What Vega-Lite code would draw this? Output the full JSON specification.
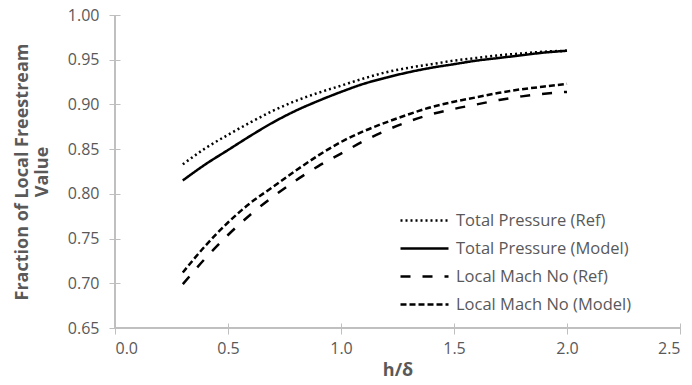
{
  "$schema": "https://vega.github.io/schema/vega-lite/v6.json",
  "width": 565,
  "height": 313,
  "autosize": {"type": "none"},
  "padding": {"left": 115, "top": 15, "right": 12, "bottom": 57},
  "config": {
    "view": {"stroke": null},
    "font": "Open Sans",
    "axis": {
      "grid": false,
      "domain": false,
      "tickColor": "#bfbfbf",
      "labelColor": "#595959",
      "labelFontSize": 16,
      "labelFont": "Open Sans",
      "titleColor": "#595959",
      "titleFont": "Open Sans",
      "titleFontSize": 18,
      "titleFontWeight": "bold",
      "tickSize": 11,
      "offset": -5
    }
  },
  "data": {
    "values": [
      {"h": 0.3, "v": 0.833, "s": "Total Pressure (Ref)"},
      {"h": 0.4, "v": 0.851, "s": "Total Pressure (Ref)"},
      {"h": 0.5, "v": 0.866, "s": "Total Pressure (Ref)"},
      {"h": 0.6, "v": 0.880, "s": "Total Pressure (Ref)"},
      {"h": 0.7, "v": 0.893, "s": "Total Pressure (Ref)"},
      {"h": 0.8, "v": 0.904, "s": "Total Pressure (Ref)"},
      {"h": 0.9, "v": 0.913, "s": "Total Pressure (Ref)"},
      {"h": 1.0, "v": 0.921, "s": "Total Pressure (Ref)"},
      {"h": 1.1, "v": 0.929, "s": "Total Pressure (Ref)"},
      {"h": 1.2, "v": 0.936, "s": "Total Pressure (Ref)"},
      {"h": 1.3, "v": 0.941, "s": "Total Pressure (Ref)"},
      {"h": 1.4, "v": 0.945, "s": "Total Pressure (Ref)"},
      {"h": 1.5, "v": 0.949, "s": "Total Pressure (Ref)"},
      {"h": 1.6, "v": 0.952, "s": "Total Pressure (Ref)"},
      {"h": 1.7, "v": 0.955, "s": "Total Pressure (Ref)"},
      {"h": 1.8, "v": 0.957, "s": "Total Pressure (Ref)"},
      {"h": 1.9, "v": 0.959, "s": "Total Pressure (Ref)"},
      {"h": 2.0, "v": 0.960, "s": "Total Pressure (Ref)"},
      {"h": 0.3, "v": 0.815, "s": "Total Pressure (Model)"},
      {"h": 0.4, "v": 0.833, "s": "Total Pressure (Model)"},
      {"h": 0.5, "v": 0.849, "s": "Total Pressure (Model)"},
      {"h": 0.6, "v": 0.865, "s": "Total Pressure (Model)"},
      {"h": 0.7, "v": 0.880, "s": "Total Pressure (Model)"},
      {"h": 0.8, "v": 0.893, "s": "Total Pressure (Model)"},
      {"h": 0.9, "v": 0.904, "s": "Total Pressure (Model)"},
      {"h": 1.0, "v": 0.914, "s": "Total Pressure (Model)"},
      {"h": 1.1, "v": 0.923, "s": "Total Pressure (Model)"},
      {"h": 1.2, "v": 0.930, "s": "Total Pressure (Model)"},
      {"h": 1.3, "v": 0.936, "s": "Total Pressure (Model)"},
      {"h": 1.4, "v": 0.941, "s": "Total Pressure (Model)"},
      {"h": 1.5, "v": 0.945, "s": "Total Pressure (Model)"},
      {"h": 1.6, "v": 0.949, "s": "Total Pressure (Model)"},
      {"h": 1.7, "v": 0.952, "s": "Total Pressure (Model)"},
      {"h": 1.8, "v": 0.955, "s": "Total Pressure (Model)"},
      {"h": 1.9, "v": 0.958, "s": "Total Pressure (Model)"},
      {"h": 2.0, "v": 0.960, "s": "Total Pressure (Model)"},
      {"h": 0.3, "v": 0.699, "s": "Local Mach No (Ref)"},
      {"h": 0.4, "v": 0.728, "s": "Local Mach No (Ref)"},
      {"h": 0.5, "v": 0.754, "s": "Local Mach No (Ref)"},
      {"h": 0.6, "v": 0.777, "s": "Local Mach No (Ref)"},
      {"h": 0.7, "v": 0.797, "s": "Local Mach No (Ref)"},
      {"h": 0.8, "v": 0.815, "s": "Local Mach No (Ref)"},
      {"h": 0.9, "v": 0.831, "s": "Local Mach No (Ref)"},
      {"h": 1.0, "v": 0.845, "s": "Local Mach No (Ref)"},
      {"h": 1.1, "v": 0.859, "s": "Local Mach No (Ref)"},
      {"h": 1.2, "v": 0.871, "s": "Local Mach No (Ref)"},
      {"h": 1.3, "v": 0.881, "s": "Local Mach No (Ref)"},
      {"h": 1.4, "v": 0.889, "s": "Local Mach No (Ref)"},
      {"h": 1.5, "v": 0.895, "s": "Local Mach No (Ref)"},
      {"h": 1.6, "v": 0.900, "s": "Local Mach No (Ref)"},
      {"h": 1.7, "v": 0.905, "s": "Local Mach No (Ref)"},
      {"h": 1.8, "v": 0.909, "s": "Local Mach No (Ref)"},
      {"h": 1.9, "v": 0.912, "s": "Local Mach No (Ref)"},
      {"h": 2.0, "v": 0.914, "s": "Local Mach No (Ref)"},
      {"h": 0.3, "v": 0.712, "s": "Local Mach No (Model)"},
      {"h": 0.4, "v": 0.742, "s": "Local Mach No (Model)"},
      {"h": 0.5, "v": 0.768, "s": "Local Mach No (Model)"},
      {"h": 0.6, "v": 0.790, "s": "Local Mach No (Model)"},
      {"h": 0.7, "v": 0.808, "s": "Local Mach No (Model)"},
      {"h": 0.8, "v": 0.826, "s": "Local Mach No (Model)"},
      {"h": 0.9, "v": 0.843, "s": "Local Mach No (Model)"},
      {"h": 1.0, "v": 0.858, "s": "Local Mach No (Model)"},
      {"h": 1.1, "v": 0.870, "s": "Local Mach No (Model)"},
      {"h": 1.2, "v": 0.880, "s": "Local Mach No (Model)"},
      {"h": 1.3, "v": 0.889, "s": "Local Mach No (Model)"},
      {"h": 1.4, "v": 0.897, "s": "Local Mach No (Model)"},
      {"h": 1.5, "v": 0.903, "s": "Local Mach No (Model)"},
      {"h": 1.6, "v": 0.908, "s": "Local Mach No (Model)"},
      {"h": 1.7, "v": 0.913, "s": "Local Mach No (Model)"},
      {"h": 1.8, "v": 0.917, "s": "Local Mach No (Model)"},
      {"h": 1.9, "v": 0.920, "s": "Local Mach No (Model)"},
      {"h": 2.0, "v": 0.923, "s": "Local Mach No (Model)"}
    ]
  },
  "layer": [
    {
      "mark": {"type": "line", "color": "black", "strokeWidth": 2.5, "interpolate": "monotone", "strokeCap": "butt"},
      "encoding": {
        "x": {
          "field": "h", "type": "quantitative", "title": "h/δ",
          "scale": {"domain": [0, 2.5], "nice": false},
          "axis": {"values": [0, 0.5, 1, 1.5, 2, 2.5], "format": ".1f", "titlePadding": 5, "labelPadding": 6}
        },
        "y": {
          "field": "v", "type": "quantitative",
          "title": ["Fraction of Local Freestream", "Value"],
          "scale": {"domain": [0.65, 1.0], "nice": false, "zero": false},
          "axis": {"values": [0.65, 0.7, 0.75, 0.8, 0.85, 0.9, 0.95, 1.0], "format": ".2f", "titlePadding": 16, "labelPadding": 10}
        },
        "strokeDash": {
          "field": "s", "type": "nominal",
          "scale": {
            "domain": ["Total Pressure (Ref)", "Total Pressure (Model)", "Local Mach No (Ref)", "Local Mach No (Model)"],
            "range": [[2, 3], [1, 0], [10, 12], [6, 3]]
          },
          "legend": {
            "title": null,
            "orient": "none",
            "legendX": 298,
            "legendY": 194,
            "symbolType": "M-2.4,0H2.4",
            "symbolSize": 400,
            "symbolStrokeWidth": 2.5,
            "symbolStrokeColor": "black",
            "symbolFillColor": "transparent",
            "labelFontSize": 16.5,
            "labelColor": "#595959",
            "labelFont": "Open Sans",
            "labelLimit": 400,
            "rowPadding": 8,
            "labelOffset": 20
          }
        }
      }
    },
    {
      "mark": {"type": "rule", "color": "#bfbfbf", "strokeWidth": 1},
      "encoding": {"x": {"datum": 0, "type": "quantitative"}}
    },
    {
      "mark": {"type": "rule", "color": "#bfbfbf", "strokeWidth": 1},
      "encoding": {"y": {"datum": 0.65, "type": "quantitative"}}
    }
  ]
}
